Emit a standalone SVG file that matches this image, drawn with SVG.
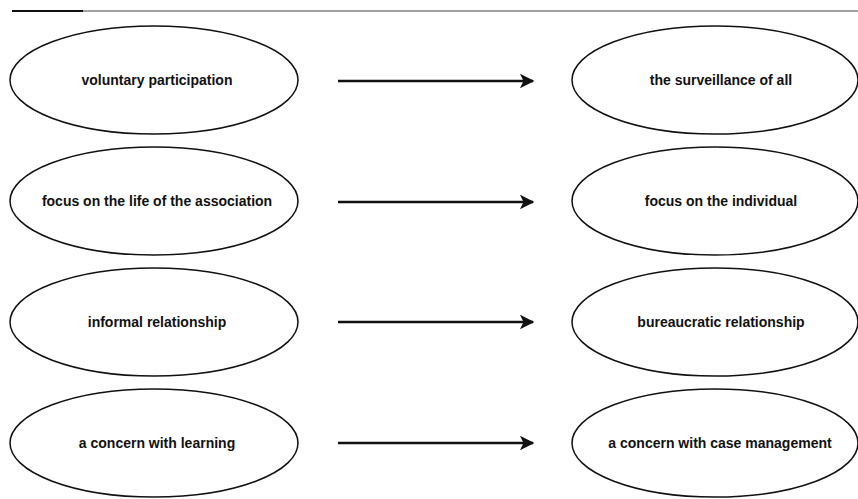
<svg xmlns="http://www.w3.org/2000/svg" width="858" height="499" viewBox="0 0 858 499">
<style>
.node ellipse{fill:#fff;stroke:#111;stroke-width:1.5}
.node text{font-family:"Liberation Sans",Arial,sans-serif;font-weight:bold;font-size:14px;fill:#111;text-anchor:middle}
.conn line{stroke:#111;stroke-width:2.6}
</style>
<defs>
<marker id="ah" viewBox="0 0 10 10" refX="9" refY="5" markerWidth="7" markerHeight="5.6" markerUnits="strokeWidth" orient="auto">
<path d="M0,0 L10,5 L0,10 L2.5,5 Z" fill="#111"/>
</marker>
</defs>
<rect width="858" height="499" fill="#fff"/>
<line x1="12" y1="11" x2="858" y2="11" stroke="#444" stroke-width="1.2"/>
<line x1="12" y1="11" x2="83" y2="11" stroke="#111" stroke-width="2"/>
<g id="l1" class="node"><ellipse cx="154" cy="80" rx="144" ry="54"/><text x="157" y="85">voluntary participation</text></g>
<g id="l2" class="node"><ellipse cx="154" cy="201" rx="144" ry="54"/><text x="157" y="206">focus on the life of the association</text></g>
<g id="l3" class="node"><ellipse cx="154" cy="322" rx="144" ry="54"/><text x="157" y="327">informal relationship</text></g>
<g id="l4" class="node"><ellipse cx="154" cy="443" rx="144" ry="54"/><text x="157" y="448">a concern with learning</text></g>
<g id="r1" class="node"><ellipse cx="715" cy="80" rx="143" ry="54"/><text x="721" y="85">the surveillance of all</text></g>
<g id="r2" class="node"><ellipse cx="715" cy="201" rx="143" ry="54"/><text x="721" y="206">focus on the individual</text></g>
<g id="r3" class="node"><ellipse cx="715" cy="322" rx="143" ry="54"/><text x="721" y="327">bureaucratic relationship</text></g>
<g id="r4" class="node"><ellipse cx="715" cy="443" rx="143" ry="54"/><text x="720" y="448">a concern with case management</text></g>
<g id="connectors" class="conn">
<line x1="338" y1="81" x2="533" y2="81" marker-end="url(#ah)"/>
<line x1="338" y1="202" x2="533" y2="202" marker-end="url(#ah)"/>
<line x1="338" y1="322" x2="533" y2="322" marker-end="url(#ah)"/>
<line x1="338" y1="443" x2="533" y2="443" marker-end="url(#ah)"/>
</g>
</svg>
